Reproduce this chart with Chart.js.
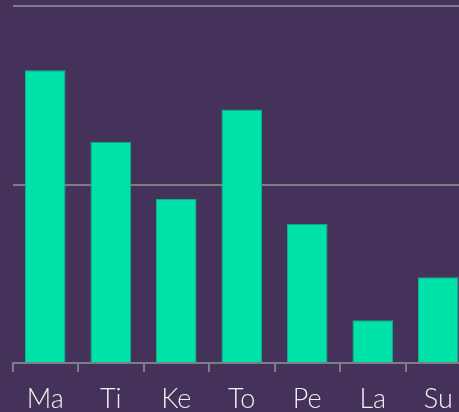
<!DOCTYPE html>
<html>
<head>
<meta charset="utf-8">
<script src="https://cdn.jsdelivr.net/npm/chart.js@4"></script>
<style>
  html, body { margin: 0; padding: 0; background: #44325a; overflow: hidden; }
  #wrap { position: relative; width: 471px; height: 412px; }
</style>
</head>
<body>
<div id="wrap"><canvas id="c"></canvas></div>
<script>
const categories = ["Ma", "Ti", "Ke", "To", "Pe", "La", "Su"];
const values = [82, 62, 46, 71, 39, 12, 24];
const yTicks = [0, 50, 100];

const grey = "#7d7d85";
new Chart(document.getElementById("c"), {
  type: "bar",
  data: {
    labels: categories,
    datasets: [{
      data: values,
      backgroundColor: "#00e3a8",
      borderColor: "#13b08f",
      borderWidth: 1,
      categoryPercentage: 1,
      barPercentage: 0.62
    }]
  },
  options: {
    responsive: true,
    maintainAspectRatio: false,
    animation: false,
    layout: { padding: { left: 12.5, top: 6, right: 0, bottom: 0 } },
    plugins: { legend: { display: false }, tooltip: { enabled: false } },
    scales: {
      x: {
        afterFit: (s) => { s.height = 49; },
        grid: { display: true, drawOnChartArea: false, drawTicks: true, tickLength: 9, color: grey, lineWidth: 2, offset: true },
        border: { display: true, color: grey, width: 2 },
        ticks: { color: "#f2f2f2", font: { family: "Lato", size: 27, weight: "300" }, padding: 11, maxRotation: 0 }
      },
      y: {
        min: yTicks[0],
        max: yTicks[yTicks.length - 1],
        afterBuildTicks: (s) => { s.ticks = yTicks.map(v => ({ value: v })); },
        afterFit: (s) => { s.width = 0; },
        grid: { color: grey, lineWidth: 2, drawTicks: false },
        border: { display: false },
        ticks: { display: false }
      }
    }
  }
});
</script>
</body>
</html>
